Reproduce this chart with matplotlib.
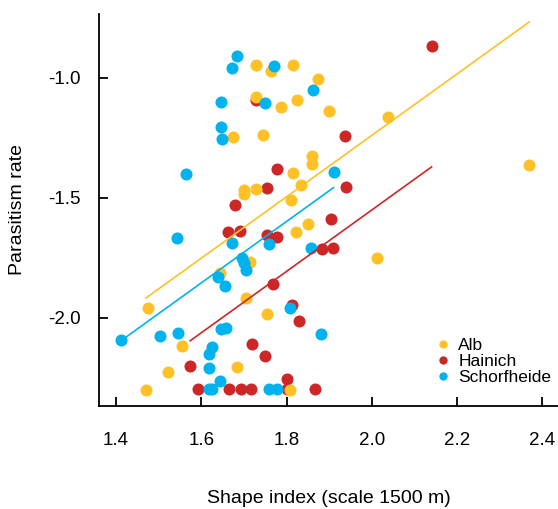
import numpy as np
import matplotlib
matplotlib.use("Agg")
import matplotlib.pyplot as plt
from matplotlib.lines import Line2D

plt.rcParams['font.family'] = ['Liberation Sans', 'DejaVu Sans']
plt.rcParams['axes.unicode_minus'] = False

# =========================================================
# DATA
# =========================================================
alb_x = [1.470, 1.476, 1.522, 1.555, 1.644, 1.674, 1.683, 1.700, 1.700, 1.704,
         1.715, 1.728, 1.728, 1.728, 1.745, 1.755, 1.763, 1.787, 1.808, 1.810,
         1.814, 1.816, 1.823, 1.825, 1.834, 1.850, 1.859, 1.859, 1.874, 1.899,
         2.011, 2.037, 2.369]
alb_y = [-2.301, -1.961, -2.226, -2.118, -1.813, -1.246, -2.205, -1.468, -1.485, -1.917,
         -1.767, -0.948, -1.079, -1.462, -1.238, -1.986, -0.971, -1.121, -2.301, -1.510,
         -0.946, -1.398, -1.644, -1.091, -1.447, -1.610, -1.328, -1.360, -1.004, -1.140,
         -1.751, -1.164, -1.363]

hainich_x = [1.574, 1.592, 1.664, 1.662, 1.680, 1.690, 1.692, 1.717, 1.718, 1.728,
             1.749, 1.753, 1.753, 1.777, 1.777, 1.769, 1.802, 1.801, 1.812, 1.829,
             1.867, 1.883, 1.908, 1.903, 1.938, 1.939, 2.140]
hainich_y = [-2.201, -2.299, -2.299, -1.641, -1.532, -1.637, -2.299, -2.299, -2.111, -1.093,
             -2.158, -1.654, -1.461, -1.665, -1.380, -1.858, -2.255, -2.299, -1.947, -2.012,
             -2.299, -1.715, -1.710, -1.590, -1.242, -1.455, -0.867]

schorf_x = [1.412, 1.502, 1.545, 1.543, 1.563, 1.617, 1.625, 1.617, 1.625, 1.619,
            1.645, 1.646, 1.657, 1.640, 1.656, 1.671, 1.647, 1.646, 1.649, 1.672,
            1.684, 1.695, 1.700, 1.704, 1.749, 1.758, 1.759, 1.777, 1.771, 1.808,
            1.858, 1.863, 1.880, 1.910]
schorf_y = [-2.095, -2.076, -2.064, -1.666, -1.403, -2.299, -2.299, -2.151, -2.121, -2.210,
            -2.264, -2.048, -2.044, -1.830, -1.867, -1.690, -1.100, -1.204, -1.257, -0.958,
            -0.908, -1.753, -1.774, -1.801, -1.105, -1.694, -2.299, -2.299, -0.953, -1.958,
            -1.711, -1.050, -2.069, -1.394]

# fitted lines: common slope, one intercept per region
slope = 1.28
intercept_alb = -3.800
intercept_hainich = -4.111
intercept_schorf = -3.903

x_ticks = [1.4, 1.6, 1.8, 2.0, 2.2, 2.4]
y_ticks = [-1.0, -1.5, -2.0]

col_alb = "#FFC125"
col_hainich = "#CD2626"
col_schorf = "#00B2EE"

# =========================================================
# PLOT
# =========================================================
fig = plt.figure(figsize=(5.58, 5.09), dpi=100)
ax = fig.add_axes([0.1774, 0.2024, 0.8226, 0.7701])

ax.scatter(hainich_x, hainich_y, s=75, color=col_hainich, linewidths=0, zorder=2)
ax.scatter(alb_x, alb_y, s=75, color=col_alb, linewidths=0, zorder=3)
ax.scatter(schorf_x, schorf_y, s=75, color=col_schorf, linewidths=0, zorder=4)

for xs, b, c in [(alb_x, intercept_alb, col_alb),
                 (hainich_x, intercept_hainich, col_hainich),
                 (schorf_x, intercept_schorf, col_schorf)]:
    xl = np.array([min(xs), max(xs)])
    ax.plot(xl, b + slope * xl, color=c, lw=1.2, zorder=5)

ax.set_xlim(1.3601, 2.4364)
ax.set_ylim(-2.368, -0.7346)
ax.set_xticks(x_ticks)
ax.set_xticklabels([f"{v:.1f}" for v in x_ticks])
ax.set_yticks(y_ticks)
ax.set_yticklabels([f"{v:.1f}" for v in y_ticks])

for side in ["top", "right"]:
    ax.spines[side].set_visible(False)
for side in ["left", "bottom"]:
    ax.spines[side].set_linewidth(1.3)

ax.tick_params(axis="both", direction="in", length=6.5, width=1.3, labelsize=13.5)
ax.tick_params(axis="x", pad=19)
ax.tick_params(axis="y", pad=13)

ax.set_xlabel("Shape index (scale 1500 m)", fontsize=14)
ax.set_ylabel("Parasitism rate", fontsize=14)
ax.xaxis.set_label_coords(0.5, -0.215)
ax.yaxis.set_label_coords(-0.158, 0.5)

handles = [Line2D([], [], ls="none", marker="o", ms=6, color=c, mec="none")
           for c in (col_alb, col_hainich, col_schorf)]
ax.legend(handles, ["Alb", "Hainich", "Schorfheide"], loc="upper left",
          bbox_to_anchor=(0.730, 0.174), frameon=False, fontsize=12.5,
          handlelength=1.0, handletextpad=0.39, labelspacing=0.05,
          borderpad=0, borderaxespad=0)

plt.savefig("out.png", dpi=100)
